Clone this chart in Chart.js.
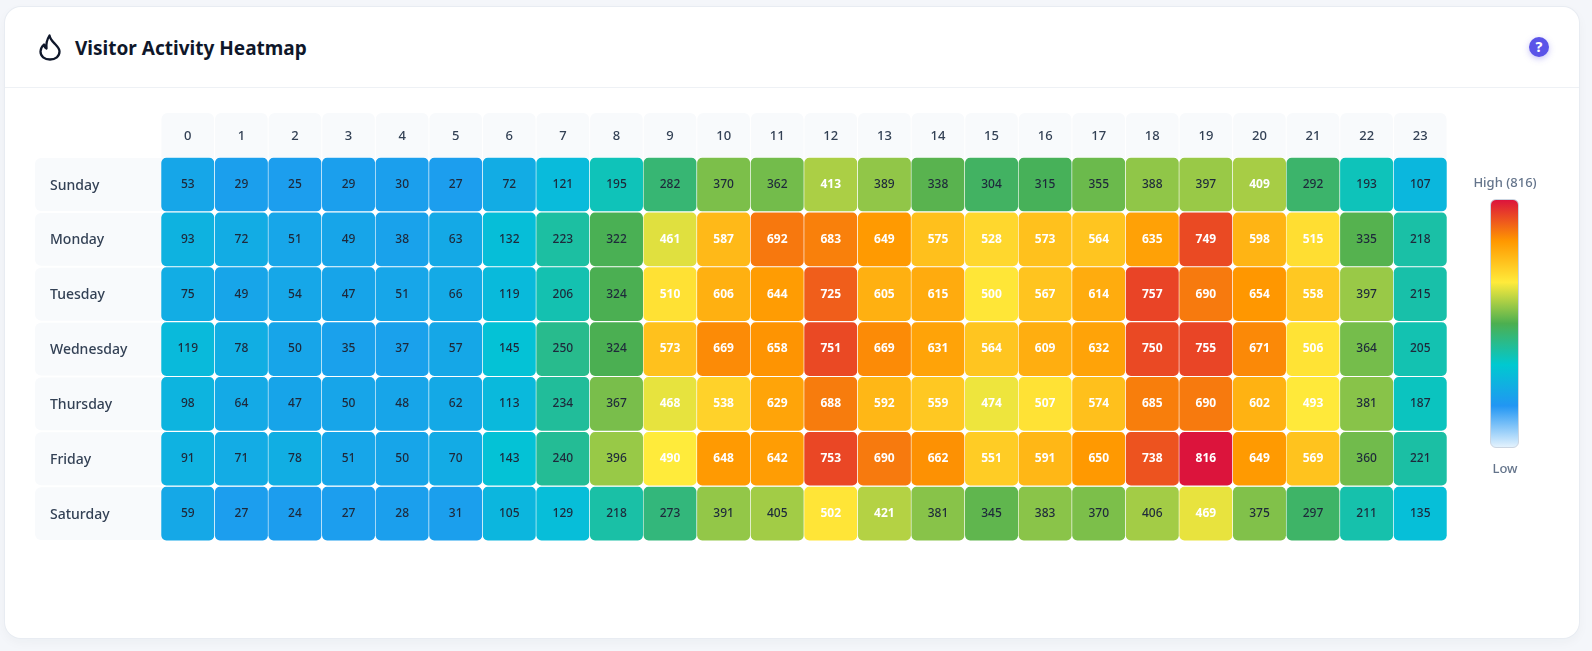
<!DOCTYPE html>
<html><head><meta charset="utf-8">
<script src="https://cdn.jsdelivr.net/npm/chart.js@4"></script>
<style>
html,body{margin:0;padding:0;width:1592px;height:651px;overflow:hidden;background:#f4f6fa;font-family:"Noto Sans",sans-serif}
#card{position:absolute;left:5px;top:7px;width:1574px;height:631px;background:#fff;border-radius:16px;box-shadow:0 0 0 1px #e8ecf2,0 4px 12px rgba(30,41,59,.04)}
#line{position:absolute;left:5px;top:87px;width:1574px;height:1px;background:#eef1f5}
#title{position:absolute;left:75px;top:34px;font-size:19px;line-height:28px;font-weight:700;color:#0f172a;white-space:nowrap}
#flame{position:absolute;left:37px;top:32px}
#help{position:absolute;left:1529px;top:37px;width:20px;height:20px;border-radius:50%;background:#5b54e8;color:#fff;font-size:14px;font-weight:800;line-height:20px;text-align:center;box-shadow:0 2px 6px rgba(91,84,232,.35)}
#wrap{position:absolute;left:35px;top:113px;width:1412px;height:428px}
#high,#low{position:absolute;left:1445px;width:120px;text-align:center;font-size:13px;font-weight:500;color:#64748b;line-height:18px}
#high{top:173px}#low{top:459px}
#bar{position:absolute;left:1490px;top:199px;width:27px;height:247px;border:1px solid #cbd5e1;border-radius:6px;background:linear-gradient(to top,#e3f2fd 0%,#2196f3 16.67%,#00c9d0 33.33%,#4caf50 50%,#ffeb3b 66.67%,#ff9800 83.33%,#dc143c 100%)}
</style></head><body>
<div id="card"></div><div id="line"></div>
<svg id="flame" width="26" height="30" viewBox="0 0 26 30" fill="none" stroke="#0f172a" stroke-width="2.3" stroke-linecap="round" stroke-linejoin="round"><path d="M12.500 3.500c.5 3.500 3 5.800 5.500 8.500 2.500 2.700 4.500 4.500 4.500 7.500 0 4.800-4 8-9.500 8S3.500 24.300 3.500 19.500c0-2.700 1.300-5 3.500-7 .3 2 1.200 3.200 2.500 4-.6-5 .8-9.500 3-13z"/></svg>
<div id="title">Visitor Activity Heatmap</div>
<div id="help">?</div>
<div id="wrap"><canvas id="c" width="1412" height="428"></canvas></div>
<div id="high">High (816)</div><div id="bar"></div><div id="low">Low</div>
<script>
const hours = ["0","1","2","3","4","5","6","7","8","9","10","11","12","13","14","15","16","17","18","19","20","21","22","23"];
const days = ["Sunday","Monday","Tuesday","Wednesday","Thursday","Friday","Saturday"];
const sunday = [53,29,25,29,30,27,72,121,195,282,370,362,413,389,338,304,315,355,388,397,409,292,193,107];
const monday = [93,72,51,49,38,63,132,223,322,461,587,692,683,649,575,528,573,564,635,749,598,515,335,218];
const tuesday = [75,49,54,47,51,66,119,206,324,510,606,644,725,605,615,500,567,614,757,690,654,558,397,215];
const wednesday = [119,78,50,35,37,57,145,250,324,573,669,658,751,669,631,564,609,632,750,755,671,506,364,205];
const thursday = [98,64,47,50,48,62,113,234,367,468,538,629,688,592,559,474,507,574,685,690,602,493,381,187];
const friday = [91,71,78,51,50,70,143,240,396,490,648,642,753,690,662,551,591,650,738,816,649,569,360,221];
const saturday = [59,27,24,27,28,31,105,129,218,273,391,405,502,421,381,345,383,370,406,469,375,297,211,135];
const rows = [sunday,monday,tuesday,wednesday,thursday,friday,saturday];
const maxValue = 816;
const stops = [[33,150,243],[0,200,210],[76,175,80],[255,235,59],[255,152,0],[220,20,60]];
function colorFor(v){
  const t = v/maxValue*(stops.length-1), i = Math.min(Math.floor(t),stops.length-2), f = t-i;
  const c = stops[i].map((s,k)=>Math.round(s+(stops[i+1][k]-s)*f));
  return `rgb(${c[0]},${c[1]},${c[2]})`;
}
function rr(ctx,x,y,w,h,r){ctx.beginPath();ctx.roundRect(x,y,w,h,r);ctx.fill();}
const headerCells = {
  id:'headerCells',
  beforeDraw(chart){
    const {ctx,scales:{x,y}} = chart;
    ctx.save();ctx.fillStyle='#f8fafc';
    const w = x.getPixelForValue(1)-x.getPixelForValue(0);
    hours.forEach((h,i)=>{const cx=x.getPixelForValue(i);rr(ctx,cx-w/2+.5,0,w-1,y.top+6,6);});
    const rh=(y.bottom-y.top)/7;
    days.forEach((d,i)=>{rr(ctx,0,y.top+i*rh+1,x.left+8,rh-2,6);});
    ctx.restore();
  }
};
const cellText = {
  id:'cellText',
  afterDatasetsDraw(chart){
    const {ctx} = chart;
    ctx.save();ctx.textAlign='center';ctx.textBaseline='middle';
    chart.data.datasets.forEach((ds,di)=>{
      chart.getDatasetMeta(di).data.forEach((el,i)=>{
        const v = rows[di][i], hot = v>=408;
        ctx.font = (hot?'700':'500')+' 12px "Noto Sans"';
        ctx.fillStyle = hot?'#ffffff':'#1e293b';
        ctx.fillText(String(v),el.x,(el.y+el.base)/2);
      });
    });
    ctx.restore();
  }
};
new Chart(document.getElementById('c'),{
  type:'bar',
  data:{labels:hours,datasets:rows.map((r,ri)=>({
    label:days[ri],
    data:r.map(()=>[ri,ri+1]),
    backgroundColor:r.map(colorFor),
    borderColor:'#ffffff',
    borderWidth:{top:.9,bottom:.9,left:.6,right:.6},
    borderSkipped:false,
    borderRadius:6,
    barPercentage:1,categoryPercentage:1,grouped:false
  }))},
  options:{
    responsive:false,animation:false,devicePixelRatio:1,
    layout:{padding:{left:15}},
    plugins:{legend:{display:false},tooltip:{enabled:false}},
    scales:{
      x:{type:'category',position:'top',grid:{display:false},border:{display:false},
        afterFit(a){a.height=44.1;a.paddingLeft=0;a.paddingRight=0;},
        ticks:{color:'#334155',font:{family:'"Noto Sans"',size:13,weight:'500'},maxRotation:0,autoSkip:false,padding:5}},
      y:{type:'linear',min:0,max:7,reverse:true,grid:{display:false},border:{display:false},
        afterFit(a){a.width=111;a.paddingTop=0;a.paddingBottom=0;},
        afterBuildTicks(a){a.ticks=days.map((d,i)=>({value:i+.5}));},
        ticks:{color:'#334155',crossAlign:'far',padding:0,labelOffset:1,font:{family:'"Noto Sans"',size:14,weight:'500'},
          callback(v){return days[Math.floor(v)];}}}
    }
  },
  plugins:[headerCells,cellText]
});
</script>
</body></html>
